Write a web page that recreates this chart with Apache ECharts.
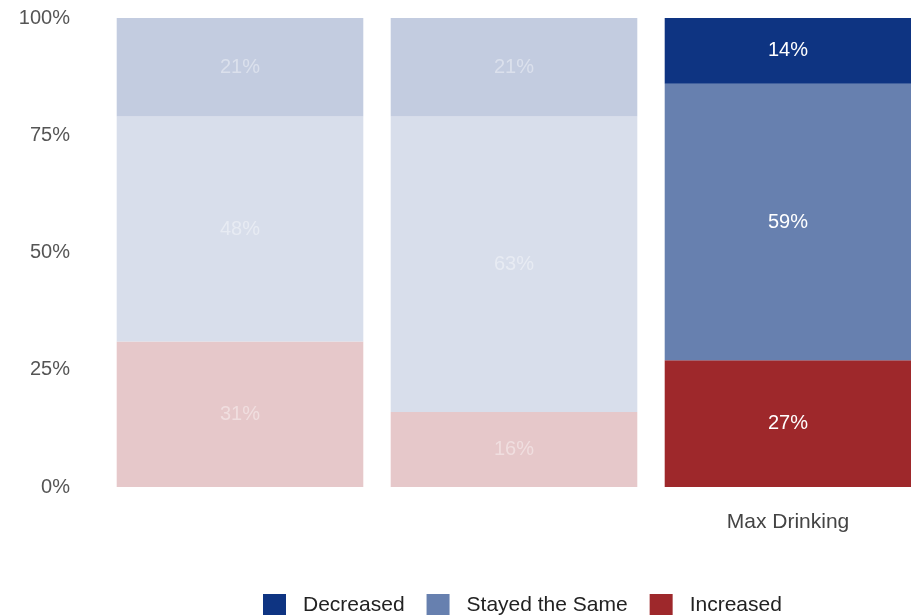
<!DOCTYPE html>
<html>
<head>
<meta charset="utf-8">
<script src="https://cdn.jsdelivr.net/npm/echarts@6/dist/echarts.min.js"></script>
<style>
  html, body { margin: 0; padding: 0; background: #fff; }
  #chart { width: 911px; height: 615px; }
</style>
</head>
<body>
<div id="chart"></div>
<script>
// categories (first two are greyed out in the original, their names are hidden)
var categories = ['', ' ', 'Max Drinking'];
var faded = [true, true, false];

// percentages per response
var increased = [31, 16, 27];
var stayedSame = [48, 63, 59];
var decreased = [21, 21, 14];

var yTicks = [0, 25, 50, 75, 100];

// colours: full and faded version
var colors = {
  Decreased: ['#0e3482', '#c3cce0'],
  'Stayed the Same': ['#6780af', '#d8deeb'],
  Increased: ['#9e282b', '#e6c8ca']
};

function buildData(values, name) {
  return values.map(function (v, i) {
    return {
      value: v,
      itemStyle: { color: colors[name][faded[i] ? 1 : 0] },
      label: { color: faded[i] ? 'rgba(255,255,255,0.4)' : '#fff' }
    };
  });
}

function makeSeries(name, values) {
  return {
    name: name,
    type: 'bar',
    stack: 'total',
    barCategoryGap: '10%',
    itemStyle: { color: colors[name][0] },
    label: {
      show: true,
      position: 'inside',
      formatter: '{c}%',
      fontSize: 20,
      fontFamily: 'Liberation Sans'
    },
    data: buildData(values, name)
  };
}

var chart = echarts.init(document.getElementById('chart'));
chart.setOption({
  animation: false,
  textStyle: { fontFamily: 'Liberation Sans' },
  // last bar runs off the right edge in the original
  grid: { left: 103, width: 822, top: 18, bottom: 128, outerBoundsMode: 'none' },
  legend: {
    top: 589,
    left: 258,
    itemWidth: 23,
    itemHeight: 23,
    itemGap: 22,
    icon: 'rect',
    textStyle: { fontSize: 21, color: '#222', padding: [0, 0, 0, 12] },
    data: ['Decreased', 'Stayed the Same', 'Increased']
  },
  xAxis: {
    type: 'category',
    data: categories,
    axisLine: { show: false },
    axisTick: { show: false },
    axisLabel: { fontSize: 21, color: '#444', margin: 25 }
  },
  yAxis: {
    type: 'value',
    min: yTicks[0],
    max: yTicks[yTicks.length - 1],
    interval: 25,
    splitLine: { show: false },
    axisLine: { show: false },
    axisTick: { show: false },
    axisLabel: { formatter: '{value}%', fontSize: 20, color: '#555', margin: 33 }
  },
  series: [
    makeSeries('Increased', increased),
    makeSeries('Stayed the Same', stayedSame),
    makeSeries('Decreased', decreased)
  ]
});
</script>
</body>
</html>
